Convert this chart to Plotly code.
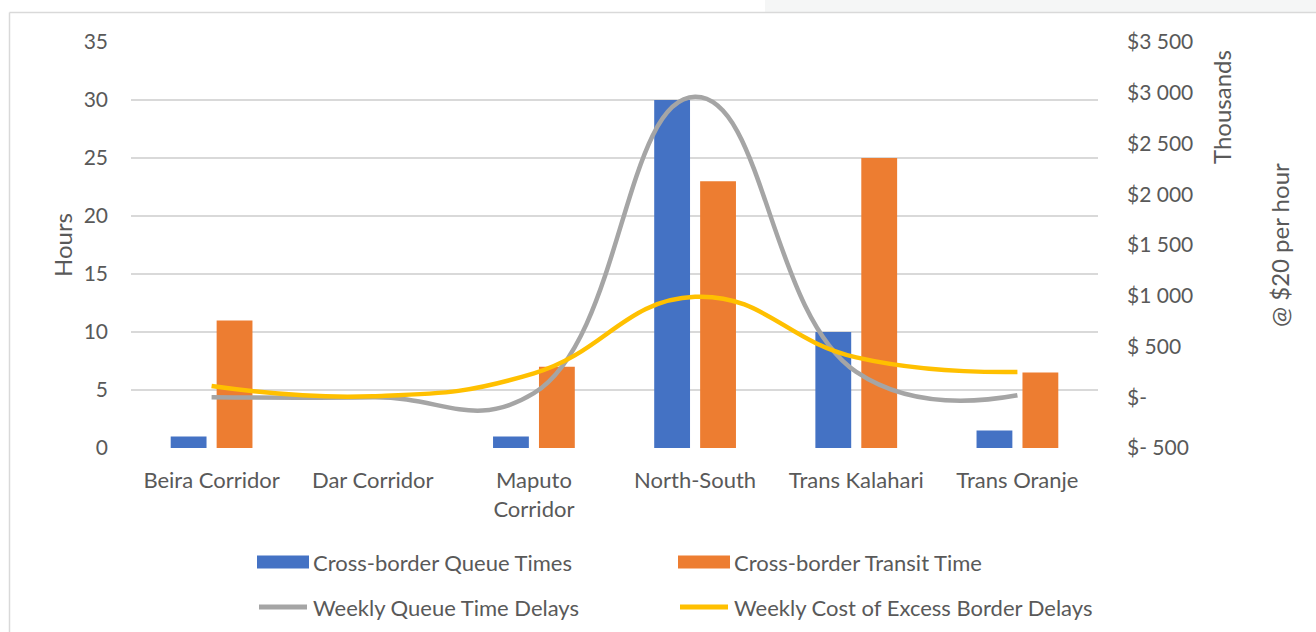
import plotly.graph_objects as go

# ---------------- data ----------------
categories = ["Beira Corridor", "Dar Corridor", "Maputo<br>Corridor",
              "North-South", "Trans Kalahari", "Trans Oranje"]
queue_times = [1, 0, 1, 30, 10, 1.5]
transit_times = [11, 0, 7, 23, 25, 6.5]
weekly_queue_delays = [0, 0, 40, 2960, 250, 20]
weekly_cost_excess = [110, 10, 236, 990, 393, 249]

series_names = ["Cross-border Queue Times", "Cross-border Transit Time",
                "Weekly Queue Time Delays", "Weekly Cost of Excess Border Delays"]
colors = ["#4472C4", "#ED7D31", "#A5A5A5", "#FFC000"]

left_ticks = [0, 5, 10, 15, 20, 25, 30, 35]
right_tickvals = [-500, 0, 500, 1000, 1500, 2000, 2500, 3000, 3500]
right_ticktext = ["$- 500", "$-", "$ 500", "$1 000", "$1 500", "$2 000",
                  "$2 500", "$3 000", "$3 500"]

# ---------------- layout geometry (pixels) ----------------
W, H = 1316, 632
PL, PR, PT, PB = 131, 1098, 42, 448
FONT = "Lato, Carlito, Calibri, sans-serif"
TXT = "#595959"


def px2x(px):
    return (px - PL) / (PR - PL)


def px2y(py):
    return (PB - py) / (PB - PT)


fig = go.Figure()
fig.add_trace(go.Bar(x=categories, y=queue_times, name=series_names[0],
                     marker=dict(color=colors[0], line=dict(width=0))))
fig.add_trace(go.Bar(x=categories, y=transit_times, name=series_names[1],
                     marker=dict(color=colors[1], line=dict(width=0))))
fig.add_trace(go.Scatter(x=categories, y=weekly_queue_delays, name=series_names[2],
                         mode="lines", yaxis="y2",
                         line=dict(color=colors[2], width=4.5, shape="spline", smoothing=1.3)))
fig.add_trace(go.Scatter(x=categories, y=weekly_cost_excess, name=series_names[3],
                         mode="lines", yaxis="y2",
                         line=dict(color=colors[3], width=4.5, shape="spline", smoothing=1.3)))

shapes = []
annotations = []

# chart border and top-right shading
shapes.append(dict(type="rect", xref="paper", yref="paper",
                   x0=px2x(765), x1=px2x(W + 5), y0=px2y(-5), y1=px2y(12),
                   fillcolor="#f5f6f6", line=dict(width=0), layer="below"))
shapes.append(dict(type="line", xref="paper", yref="paper",
                   x0=px2x(9.5), x1=px2x(W + 5), y0=px2y(12.5), y1=px2y(12.5),
                   line=dict(color="#d9d9d9", width=1.5)))
shapes.append(dict(type="line", xref="paper", yref="paper",
                   x0=px2x(9.5), x1=px2x(9.5), y0=px2y(12.5), y1=px2y(H + 5),
                   line=dict(color="#d9d9d9", width=1.5)))

# axis titles
TITLE_SIZE = 24
annotations.append(dict(text="Hours", xref="paper", yref="paper",
                        x=px2x(62), y=px2y(245), textangle=-90, showarrow=False,
                        font=dict(family=FONT, size=TITLE_SIZE, color=TXT),
                        xanchor="center", yanchor="middle"))
annotations.append(dict(text="Thousands", xref="paper", yref="paper",
                        x=px2x(1222), y=px2y(107), textangle=-90, showarrow=False,
                        font=dict(family=FONT, size=TITLE_SIZE, color=TXT),
                        xanchor="center", yanchor="middle"))
annotations.append(dict(text="@ $20 per hour", xref="paper", yref="paper",
                        x=px2x(1279), y=px2y(245), textangle=-90, showarrow=False,
                        font=dict(family=FONT, size=TITLE_SIZE, color=TXT),
                        xanchor="center", yanchor="middle"))

# manual legend
legend_pos = [(257, 562), (678, 562), (257, 607), (678, 607)]
for i, (lx, ly) in enumerate(legend_pos):
    if i < 2:
        shapes.append(dict(type="rect", xref="paper", yref="paper",
                           x0=px2x(lx), x1=px2x(lx + 52),
                           y0=px2y(ly - 6.5), y1=px2y(ly + 6.5),
                           fillcolor=colors[i], line=dict(width=0)))
    else:
        shapes.append(dict(type="line", xref="paper", yref="paper",
                           x0=px2x(lx + 2), x1=px2x(lx + 50),
                           y0=px2y(ly), y1=px2y(ly),
                           line=dict(color=colors[i], width=5)))
    annotations.append(dict(text=series_names[i], xref="paper", yref="paper",
                            x=px2x(lx + 54), y=px2y(ly), showarrow=False,
                            xanchor="left", yanchor="middle",
                            font=dict(family=FONT, size=22, color=TXT)))

fig.update_layout(
    width=W, height=H,
    margin=dict(l=PL, r=W - PR, t=PT, b=H - PB, pad=0),
    paper_bgcolor="white", plot_bgcolor="white",
    font=dict(family=FONT, size=20, color=TXT),
    showlegend=False,
    barmode="group", bargap=0.43, bargroupgap=0.22,
    xaxis=dict(showgrid=False, showline=False, zeroline=False, ticks="",
               ticklabelstandoff=17, tickfont=dict(family=FONT, size=22, color=TXT)),
    yaxis=dict(range=[0, 35], tickvals=left_ticks, showgrid=True,
               gridcolor="#d9d9d9", gridwidth=1.5, zeroline=False, showline=False,
               ticks="", ticklabelstandoff=22,
               tickfont=dict(family=FONT, size=21, color=TXT)),
    yaxis2=dict(range=[-500, 3500], tickvals=right_tickvals, ticktext=right_ticktext,
                overlaying="y", side="right", showgrid=False, zeroline=False,
                showline=False, ticks="", ticklabelstandoff=28,
                tickfont=dict(family=FONT, size=21, color=TXT)),
    shapes=shapes,
    annotations=annotations,
)

fig.write_html("out.html")
